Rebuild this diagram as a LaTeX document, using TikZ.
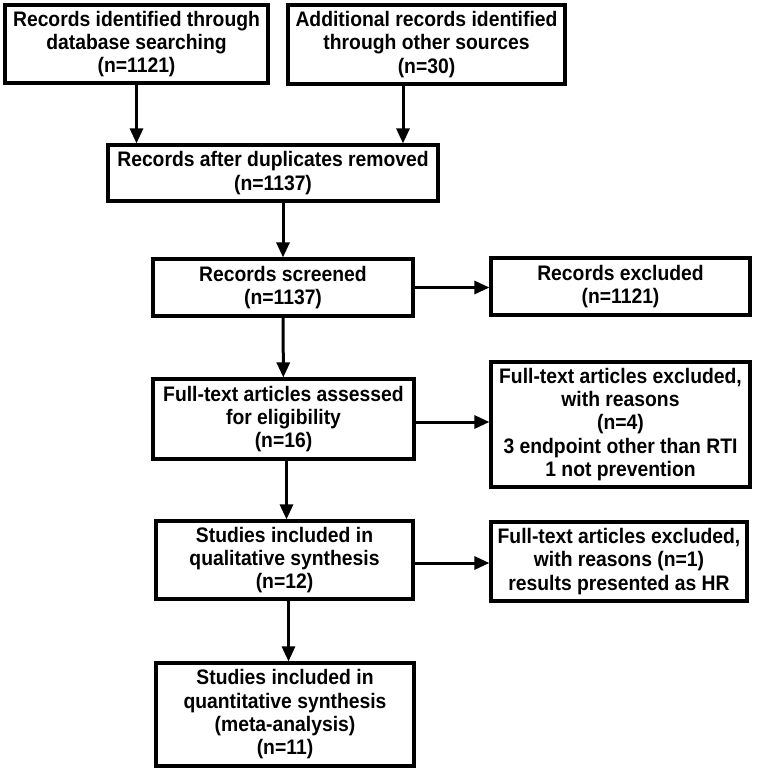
\documentclass[tikz,border=0pt]{standalone}
\usepackage{fontspec}
\setmainfont[FakeStretch=0.92]{Liberation Sans}
\usetikzlibrary{arrows.meta, positioning, calc}
\tikzset{
    block/.style={rectangle, draw, line width=3.2pt, fill=white, align=center, inner sep=1pt,
        font=\fontsize{21}{23.3}\selectfont\bfseries},
    arrow/.style={line width=3pt, -{Triangle[length=15pt, width=13pt]}}
}

\begin{document}
\begin{tikzpicture}[x=1pt, y=-1pt]
    \useasboundingbox (0,0) rectangle (756,772);
    % identification
    \node[block, minimum width=263pt, minimum height=78pt] (database) at (136.5,44) {Records identified through\\database searching\\(n=1121)};
    \node[block, minimum width=277pt, minimum height=79pt] (other) at (426.5,44.5) {Additional records identified\\through other sources\\(n=30)};
    \node[block, minimum width=330pt, minimum height=56pt] (duplicates) at (273,173) {Records after duplicates removed\\(n=1137)};
    % screening
    \node[block, minimum width=260pt, minimum height=57pt] (screened) at (283,287.5) {Records screened\\(n=1137)};
    \node[block, minimum width=259pt, minimum height=57pt] (excluded) at (620.5,286.5) {Records excluded\\(n=1121)};
    % eligibility
    \node[block, minimum width=261pt, minimum height=80pt] (fulltext) at (283.5,419) {Full-text articles assessed\\for eligibility\\(n=16)};
    \node[block, minimum width=259pt, minimum height=125pt] (reasons) at (620.5,424.5) {Full-text articles excluded,\\with reasons\\(n=4)\\3 endpoint other than RTI\\1 not prevention};
    % included
    \node[block, minimum width=257pt, minimum height=78pt] (qualitative) at (284.5,560) {Studies included in\\qualitative synthesis\\(n=12)};
    \node[block, minimum width=256pt, minimum height=79pt] (hr) at (619,561.5) {Full-text articles excluded,\\with reasons (n=1)\\results presented as HR};
    \node[block, minimum width=258pt, minimum height=103pt] (quantitative) at (285,714.5) {Studies included in\\quantitative synthesis\\(meta-analysis)\\(n=11)};

    \draw[arrow] (database.south) -- (database.south |- duplicates.north);
    \draw[arrow] ([xshift=-23.5pt]other.south) -- ([xshift=-23.5pt]other.south |- duplicates.north);
    \draw[arrow] (screened.north |- duplicates.south) -- (screened.north);
    \draw[arrow] (screened.east) -- (screened.east -| excluded.west);
    \draw[arrow] (screened) -- (fulltext);
    \draw[arrow] ([yshift=-3pt]fulltext.east) -- ([yshift=-3pt]fulltext.east -| reasons.west);
    \draw[arrow] ([xshift=3pt]fulltext.south) -- ([xshift=3pt]fulltext.south |- qualitative.north);
    \draw[arrow] ([yshift=-3pt]qualitative.east) -- ([yshift=-3pt]qualitative.east -| hr.west);
    \draw[arrow] ([xshift=4pt]qualitative.south) -- ([xshift=4pt]qualitative.south |- quantitative.north);
\end{tikzpicture}
\end{document}
